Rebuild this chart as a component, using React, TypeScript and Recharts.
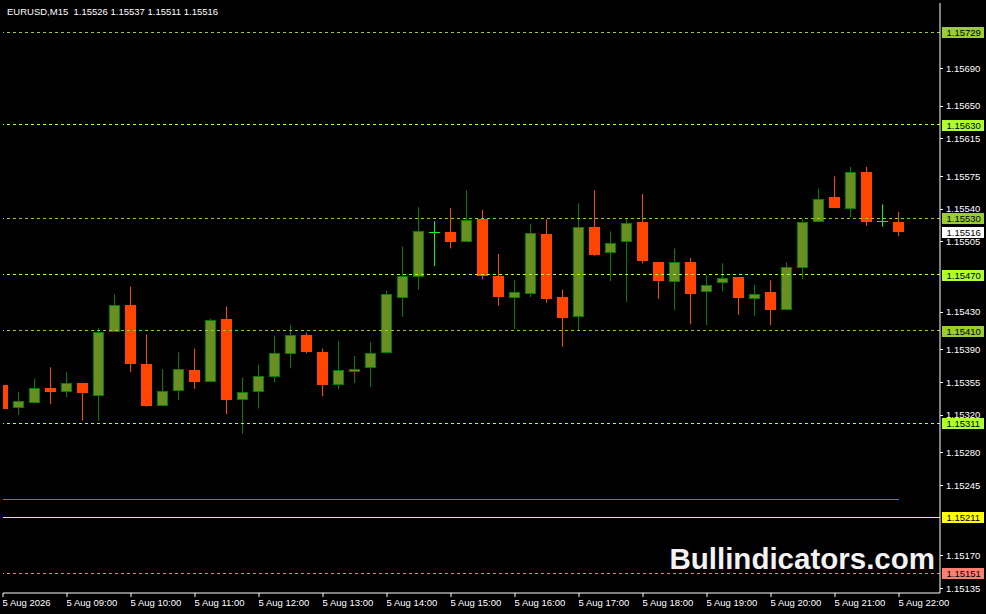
import React from 'react';
import { ComposedChart, Bar, XAxis, YAxis, ReferenceLine } from 'recharts';

// EURUSD M15, 5 Aug 08:00 .. 22:00
const opens = [
  1.15352, 1.15329, 1.15334, 1.15349, 1.15346, 1.15354, 1.15341, 1.1541, 1.15437, 1.15374,
  1.15331, 1.15347, 1.15368, 1.15356, 1.15423, 1.15337, 1.15346, 1.15362, 1.15386, 1.15406,
  1.15387, 1.15353, 1.15367, 1.15371, 1.15387, 1.15446, 1.15468, 1.15516, 1.15516, 1.15506,
  1.15529, 1.15468, 1.15446, 1.1545, 1.15513, 1.15446, 1.15426, 1.15521, 1.15494, 1.15506,
  1.15526, 1.15483, 1.15463, 1.15483, 1.15452, 1.15462, 1.15467, 1.15445, 1.15451, 1.15433,
  1.15478, 1.15527, 1.15553, 1.15541, 1.1558, 1.15527, 1.15526,
];
const highs = [
  1.15352, 1.15345, 1.15359, 1.15371, 1.15366, 1.15354, 1.15413, 1.15449, 1.15457, 1.15406,
  1.15369, 1.15387, 1.15391, 1.15423, 1.15436, 1.1536, 1.15374, 1.15405, 1.15416, 1.15408,
  1.15391, 1.15399, 1.15383, 1.15398, 1.15453, 1.155, 1.15542, 1.15527, 1.15541, 1.1556,
  1.15539, 1.15492, 1.15464, 1.15524, 1.15529, 1.15454, 1.15546, 1.1556, 1.15516, 1.15529,
  1.15556, 1.15483, 1.15498, 1.15488, 1.15469, 1.15482, 1.15467, 1.15459, 1.15464, 1.15483,
  1.15529, 1.15562, 1.15575, 1.15585, 1.15585, 1.15545, 1.15537,
];
const lows = [
  1.15306, 1.1532, 1.15333, 1.15332, 1.15339, 1.15314, 1.15314, 1.15409, 1.15366, 1.15329,
  1.1533, 1.15336, 1.15348, 1.15355, 1.15321, 1.153, 1.15327, 1.15355, 1.1537, 1.15386,
  1.1534, 1.15348, 1.15354, 1.1535, 1.15386, 1.15425, 1.15454, 1.15479, 1.15498, 1.15505,
  1.15465, 1.15437, 1.15412, 1.15446, 1.1544, 1.15393, 1.1541, 1.1549, 1.15463, 1.15441,
  1.15482, 1.15444, 1.15432, 1.15417, 1.15416, 1.15452, 1.15427, 1.15426, 1.15416, 1.15432,
  1.15465, 1.15527, 1.15541, 1.15531, 1.15522, 1.15521, 1.15511,
];
const closes = [
  1.15327, 1.15335, 1.15349, 1.15345, 1.15354, 1.15344, 1.15409, 1.15437, 1.15374, 1.1533,
  1.15346, 1.15369, 1.15355, 1.15422, 1.15336, 1.15345, 1.15362, 1.15386, 1.15406, 1.15387,
  1.15352, 1.15368, 1.15369, 1.15386, 1.15449, 1.15468, 1.15517, 1.15516, 1.15505, 1.15528,
  1.15468, 1.15446, 1.15451, 1.15514, 1.15444, 1.15424, 1.15521, 1.15491, 1.15504, 1.15525,
  1.15484, 1.15463, 1.15483, 1.15449, 1.15459, 1.15466, 1.15445, 1.15449, 1.15432, 1.15478,
  1.15526, 1.15551, 1.15541, 1.1558, 1.15526, 1.15527, 1.15516,
];

// one label every 4 bars (1 hour)
const timeLabels = [
  '5 Aug 2026', '5 Aug 09:00', '5 Aug 10:00', '5 Aug 11:00', '5 Aug 12:00',
  '5 Aug 13:00', '5 Aug 14:00', '5 Aug 15:00', '5 Aug 16:00', '5 Aug 17:00',
  '5 Aug 18:00', '5 Aug 19:00', '5 Aug 20:00', '5 Aug 21:00', '5 Aug 22:00',
];
// scale labels not covered by the price tags
const priceTicks = [
  1.1569, 1.1565, 1.15615, 1.15575, 1.1554, 1.15505, 1.1543,
  1.1539, 1.15355, 1.1532, 1.1528, 1.15245, 1.1517, 1.15135,
];

// horizontal levels drawn on the chart
const dashedLevels = [1.15729, 1.1563, 1.1553, 1.1547, 1.1541, 1.15311];
const dashedColors = ['#9acd32', '#adff2f', '#9acd32', '#adff2f', '#9acd32', '#adff2f'];
const yellowLevel = 1.15211;
const pinkLevel = 1.15151;
const blueLevel = 1.1523;
const bidPrice = 1.15516;

const data = opens.map((open, i) => ({
  i,
  open,
  high: highs[i],
  low: lows[i],
  close: closes[i],
  range: [lows[i], highs[i]],
}));

const BARS_PER_TICK = 4;
const xTicks = timeLabels.map((_, k) => k * BARS_PER_TICK);

const FONT = '"Liberation Sans", Arial, sans-serif';
const FS = 9.5;

function Candle(props: any) {
  const { x, y, width, height, payload } = props;
  if (x == null || y == null) return null;
  const { open, high, low, close } = payload;
  const top = Math.min(y, y + height);
  const h = Math.abs(height);
  const py = (p: number) => top + ((high - p) / (high - low || 1)) * h;
  const cx = Math.floor(x + width / 2) + 0.5;
  const yHigh = py(high);
  const yLow = py(low);

  if (open === close) {
    const yc = Math.round(py(open)) + 0.5;
    return (
      <g>
        <line x1={cx} x2={cx} y1={yHigh} y2={yLow} stroke="#00ff00" />
        <line x1={cx - 5.5} x2={cx + 5.5} y1={yc} y2={yc} stroke="#00ff00" />
      </g>
    );
  }

  const bull = close > open;
  const yTop = Math.round(py(Math.max(open, close)));
  const yBot = Math.round(py(Math.min(open, close)));
  if (bull) {
    return (
      <g>
        <line x1={cx} x2={cx} y1={yHigh} y2={yLow} stroke="#008000" />
        <rect
          x={cx - 5}
          y={yTop + 0.5}
          width={10}
          height={Math.max(yBot - yTop, 1)}
          fill="#6b8e23"
          stroke="#008000"
        />
      </g>
    );
  }
  return (
    <g>
      <line x1={cx} x2={cx} y1={yHigh} y2={yLow} stroke="#ff4500" />
      <rect
        x={cx - 5.5}
        y={yTop}
        width={11}
        height={Math.max(yBot - yTop, 1)}
        fill="#ff4500"
      />
    </g>
  );
}

function PriceTag({ viewBox, value, bg }: any) {
  if (!viewBox) return null;
  const bx = viewBox.x + viewBox.width + 2;
  const by = Math.round(viewBox.y);
  return (
    <g>
      <rect x={bx} y={by - 5} width={42} height={11} fill={bg} />
      <text x={bx + 4.5} y={by + 4} fontSize={FS} fontFamily={FONT} fill="#000">
        {value.toFixed(5)}
      </text>
    </g>
  );
}

function XTick({ x, y, payload }: any) {
  const label = timeLabels[Math.round(payload.value / BARS_PER_TICK)];
  return (
    <text x={x - 0.5} y={y + 8.5} fontSize={FS} fontFamily={FONT} fill="#fff">
      {label}
    </text>
  );
}

function YTick({ x, y, payload }: any) {
  return (
    <text x={x + 3} y={y + 3.4} fontSize={FS} fontFamily={FONT} fill="#fff">
      {payload.value.toFixed(5)}
    </text>
  );
}

export default function App() {
  const last = opens.length - 1;
  return (
    <div
      style={{
        position: 'absolute',
        left: 0,
        top: 0,
        width: 986,
        height: 614,
        background: '#000',
        overflow: 'hidden',
      }}
    >
      <ComposedChart
        width={986}
        height={614}
        data={data}
        margin={{ top: 3, right: 0, bottom: 0, left: 3 }}
      >
        <XAxis
          type="number"
          dataKey="i"
          domain={[0, 58.5625]}
          ticks={xTicks}
          interval={0}
          tick={<XTick />}
          tickSize={4}
          tickMargin={0}
          height={21}
          allowDataOverflow
          axisLine={{ stroke: '#fff' }}
          tickLine={{ stroke: '#fff' }}
        />
        <YAxis
          orientation="right"
          domain={[1.1513, 1.1576]}
          ticks={priceTicks}
          tick={<YTick />}
          tickSize={3}
          tickMargin={0}
          width={46}
          allowDataOverflow
          axisLine={{ stroke: '#fff' }}
          tickLine={{ stroke: '#fff', shapeRendering: 'crispEdges' }}
          interval={0}
        />
        <YAxis
          yAxisId="frame"
          orientation="left"
          width={0}
          tick={false}
          tickLine={false}
          axisLine={{ stroke: '#fff' }}
        />
        <Bar dataKey="range" shape={<Candle />} barSize={11} isAnimationActive={false} />
        {dashedLevels.map((lvl, k) => (
          <ReferenceLine
            key={lvl}
            y={lvl}
            stroke={dashedColors[k]}
            strokeDasharray="3 3"
            shapeRendering="crispEdges"
            label={(p: any) => <PriceTag {...p} value={lvl} bg={dashedColors[k]} />}
          />
        ))}
        <ReferenceLine
          segment={[
            { x: 0, y: blueLevel },
            { x: last, y: blueLevel },
          ]}
          stroke="#2f86d8"
          shapeRendering="crispEdges"
        />
        <ReferenceLine
          y={yellowLevel}
          stroke="#ffff00"
          shapeRendering="crispEdges"
          label={(p: any) => <PriceTag {...p} value={yellowLevel} bg="#ffff00" />}
        />
        <ReferenceLine
          y={pinkLevel}
          stroke="#f08080"
          strokeDasharray="3 3"
          shapeRendering="crispEdges"
          label={(p: any) => <PriceTag {...p} value={pinkLevel} bg="#fa8072" />}
        />
        <ReferenceLine
          y={bidPrice}
          stroke="none"
          label={(p: any) => <PriceTag {...p} value={bidPrice} bg="#ffffff" />}
        />
      </ComposedChart>
      <svg
        width={986}
        height={614}
        style={{ position: 'absolute', left: 0, top: 0, pointerEvents: 'none' }}
      >
        <text x={7} y={14.5} fontSize={FS} fontFamily={FONT} fill="#fff" xmlSpace="preserve">
          {`EURUSD,M15\u00a0 ${opens[last].toFixed(5)} ${highs[last].toFixed(5)} ${lows[last].toFixed(5)} ${closes[last].toFixed(5)}`}
        </text>
        <text
          x={935}
          y={569}
          textAnchor="end"
          fontSize={29.5}
          fontWeight="bold"
          fontFamily={FONT}
          fill="#f2f2f2"
        >
          Bullindicators.com
        </text>
      </svg>
    </div>
  );
}
